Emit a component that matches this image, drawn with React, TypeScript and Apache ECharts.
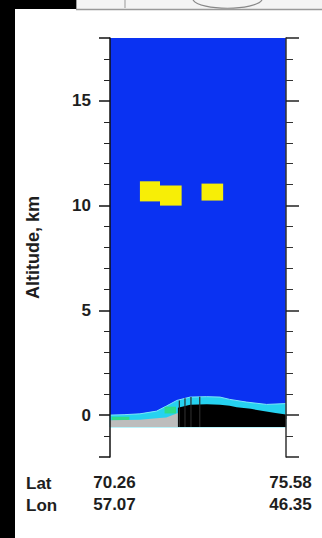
import React, { useEffect, useRef } from "react";
import * as echarts from "echarts";

// ---- data ----
const rowLabels = ["Lat", "Lon"];
const latLabels = ["70.26", "75.58"];
const lonLabels = ["57.07", "46.35"];
const yTitle = "Altitude, km";

// along-track position, 0 = first profile, 100 = last profile
const surfaceX = [0, 8, 17, 26.5, 32, 38, 45.5, 55, 62.5, 68, 77.7, 89, 100];
const surfaceTop = [0.0, 0.02, 0.06, 0.19, 0.43, 0.7, 0.86, 0.88, 0.86, 0.75, 0.62, 0.51, 0.55];

const grayX = [0, 17, 26.5, 32, 38.6];
const grayTop = [-0.25, -0.22, -0.15, -0.12, 0.1];

const blackX = [38.6, 45.5, 55, 62.5, 68, 72, 80, 87, 94, 100];
const blackTop = [0.35, 0.5, 0.52, 0.5, 0.45, 0.38, 0.3, 0.19, 0.1, 0.03];

const groundBottom = -0.57;

// green patches [x0, x1, yBottom, yTop]
const greenPatches = [
  [1, 11, -0.26, -0.08],
  [31, 37.5, 0.08, 0.4],
];

// dark streaks [x, top]
const streakX = [39.4, 42.6, 46, 51];
const streakTop = [0.7, 0.8, 0.86, 0.87];

// cloud boxes [x0, x1, yBottom, yTop]
const clouds = [
  [17, 28.4, 10.2, 11.16],
  [28.4, 40.7, 10.0, 10.96],
  [52, 64.3, 10.24, 11.05],
];

const FONT = "Liberation Sans";
const BLUE = "#0a32f2";

export default function App() {
  const ref = useRef<HTMLDivElement>(null);
  useEffect(() => {
    if (!ref.current) return;
    const chart = echarts.init(ref.current, null, { renderer: "svg" });

    const groundRender = (params: any, api: any) => {
      const c = (x: number, y: number) => api.coord([x, y]);
      const poly = (xs: number[], ys: number[]) => {
        const pts = xs.map((x, i) => c(x, ys[i]));
        pts.push(c(xs[xs.length - 1], groundBottom));
        pts.push(c(xs[0], groundBottom));
        return pts;
      };
      const children: any[] = [];
      const tl = c(0, 18);
      const br = c(100, groundBottom);
      children.push({
        type: "rect",
        shape: { x: tl[0], y: tl[1], width: br[0] - tl[0], height: br[1] - tl[1] },
        style: { fill: BLUE },
      });
      children.push({
        type: "polygon",
        shape: { points: poly(surfaceX, surfaceTop) },
        style: { fill: "#26d2f0", stroke: "#7de8f8", lineWidth: 1 },
      });
      greenPatches.forEach((g) => {
        const a = c(g[0], g[3]);
        const b = c(g[1], g[2]);
        children.push({
          type: "rect",
          shape: { x: a[0], y: a[1], width: b[0] - a[0], height: b[1] - a[1] },
          style: { fill: "#2fdc8a" },
        });
      });
      children.push({
        type: "polygon",
        shape: { points: poly(grayX, grayTop) },
        style: { fill: "#bdbdbd" },
      });
      children.push({
        type: "polygon",
        shape: { points: poly(blackX, blackTop) },
        style: { fill: "#000" },
      });
      streakX.forEach((x, i) => {
        const a = c(x, streakTop[i]);
        const b = c(x, groundBottom);
        children.push({
          type: "line",
          shape: { x1: a[0], y1: a[1], x2: b[0], y2: b[1] },
          style: { stroke: "#2a2a2a", lineWidth: 1.2 },
        });
      });
      return { type: "group", children };
    };

    const cloudRender = (params: any, api: any) => {
      const a = api.coord([api.value(0), api.value(3)]);
      const b = api.coord([api.value(1), api.value(2)]);
      return {
        type: "rect",
        shape: { x: a[0], y: a[1], width: b[0] - a[0], height: b[1] - a[1] },
        style: { fill: "#f7ee06" },
      };
    };

    const labelStyle = { fontFamily: FONT, fontWeight: "bold" as const, fontSize: 17, color: "#1e1e1e" };

    chart.setOption({
      animation: false,
      backgroundColor: "#ffffff",
      grid: { left: 110, right: 36, top: 38, bottom: 81 },
      xAxis: {
        type: "value",
        min: 0,
        max: 100,
        interval: 100,
        axisLine: { show: true, lineStyle: { color: "#777", width: 1.5 } },
        axisTick: { show: true, length: 4, lineStyle: { color: "#333" } },
        splitLine: { show: false },
        axisLabel: {
          ...labelStyle,
          formatter: (v: number) =>
            v === 0 ? `${latLabels[0]}\n${lonLabels[0]}` : `${latLabels[1]}\n${lonLabels[1]}`,
          lineHeight: 22,
          margin: 14,
          padding: [0, 0, 0, 9],
        },
      },
      yAxis: [
        {
          type: "value",
          min: -2,
          max: 18,
          splitNumber: 4,
          position: "left",
          z: 5,
          axisLine: { show: true, lineStyle: { color: "#111", width: 1.5 } },
          axisTick: { show: true, length: 11, lineStyle: { color: "#111", width: 1.5 } },
          minorTick: { show: true, splitNumber: 5, length: 6, lineStyle: { color: "#222", width: 1 } },
          splitLine: { show: false },
          minorSplitLine: { show: false },
          axisLabel: {
            ...labelStyle,
            margin: 19,
            formatter: (v: number) => (v % 5 === 0 ? String(v) : ""),
          },
          name: yTitle,
          nameLocation: "middle",
          nameRotate: 90,
          nameGap: 68,
          nameTextStyle: { ...labelStyle, fontSize: 18 },
        },
        {
          type: "value",
          min: -2,
          max: 18,
          splitNumber: 4,
          position: "right",
          z: 5,
          axisLine: { show: true, lineStyle: { color: "#333", width: 1.5 } },
          axisTick: { show: true, length: 13, lineStyle: { color: "#222", width: 1.5 } },
          minorTick: { show: true, splitNumber: 5, length: 7, lineStyle: { color: "#333", width: 1 } },
          splitLine: { show: false },
          minorSplitLine: { show: false },
          axisLabel: { show: false },
        },
      ],
      graphic: [
        { type: "rect", shape: { x: 0, y: 0, width: 15, height: 538 }, style: { fill: "#000" }, z: 10 },
        { type: "rect", shape: { x: 0, y: 0, width: 76, height: 9 }, style: { fill: "#000" }, z: 10 },
        { type: "rect", shape: { x: 76, y: 0, width: 246, height: 9 }, style: { fill: "#f4f4f4" }, z: 10 },
        { type: "line", shape: { x1: 76, y1: 9.5, x2: 322, y2: 9.5 }, style: { stroke: "#999", lineWidth: 1.5 }, z: 10 },
        { type: "line", shape: { x1: 76.5, y1: 0, x2: 76.5, y2: 9 }, style: { stroke: "#999", lineWidth: 1 }, z: 10 },
        { type: "line", shape: { x1: 125, y1: 0, x2: 125, y2: 8 }, style: { stroke: "#999", lineWidth: 1 }, z: 10 },
        {
          type: "bezierCurve",
          shape: { x1: 193, y1: 0, cpx1: 200, cpy1: 11, cpx2: 255, cpy2: 11, x2: 262, y2: 0 },
          style: { stroke: "#888", lineWidth: 1.2, fill: "none" },
          z: 10,
        },
        {
          type: "text",
          x: 26,
          y: 483,
          style: { text: rowLabels[0], fill: "#1e1e1e", font: `bold 17px "${FONT}"`, verticalAlign: "middle" },
          z: 10,
        },
        {
          type: "text",
          x: 26,
          y: 505,
          style: { text: rowLabels[1], fill: "#1e1e1e", font: `bold 17px "${FONT}"`, verticalAlign: "middle" },
          z: 10,
        },
      ],
      series: [
        {
          type: "custom",
          renderItem: groundRender,
          data: [[0, 0]],
          silent: true,
          z: 1,
        },
        {
          type: "custom",
          renderItem: cloudRender,
          data: clouds,
          encode: { x: [0, 1], y: [2, 3] },
          silent: true,
          z: 2,
        },
      ],
    });
    return () => chart.dispose();
  }, []);

  return (
    <div
      ref={ref}
      style={{ position: "fixed", left: 0, top: 0, width: 322, height: 538, background: "#fff" }}
    />
  );
}
